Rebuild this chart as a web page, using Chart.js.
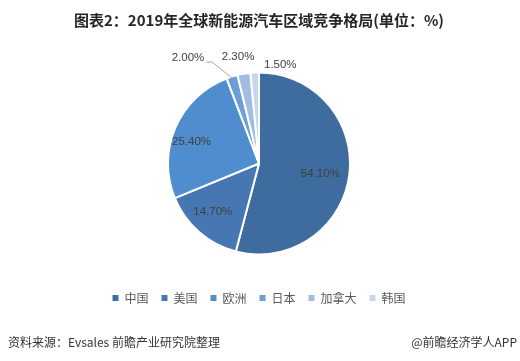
<!DOCTYPE html>
<html>
<head>
<meta charset="utf-8">
<script src="https://cdn.jsdelivr.net/npm/chart.js@4.4.1/dist/chart.umd.min.js"></script>
<style>
  html, body { margin: 0; padding: 0; background: #fff; }
  #wrap { position: relative; width: 520px; height: 361px; }
  .foot {
    position: absolute; top: 333px; font: 12px "Noto Sans CJK SC", sans-serif;
    color: #333; line-height: 18px; white-space: nowrap;
  }
</style>
</head>
<body>
<div id="wrap">
  <canvas id="pie" width="520" height="361"></canvas>
  <div class="foot" style="left:8px">资料来源：Evsales 前瞻产业研究院整理</div>
  <div class="foot" style="right:3px">@前瞻经济学人APP</div>
</div>
<script>
const regions = ['中国', '美国', '欧洲', '日本', '加拿大', '韩国'];
const shares = [54.1, 14.7, 25.4, 2.0, 2.3, 1.5];
const sliceColors = ['#3e6c9e', '#4677b3', '#4f8dcf', '#6d9fd6', '#a1bee2', '#c8d7ec'];

// where each value label sits: inside (k < 1) or outside the rim, plus a nudge
const labelPlace = [
  { k: 0.68, dx: 0, dy: 2 },
  { k: 0.72, dx: -3, dy: -1 },
  { k: 0.70, dx: -9, dy: 4 },
  { k: 1.0, dx: -44, dy: -19, leader: true },
  { k: 1.19, dx: -3, dy: 0 },
  { k: 1.1, dx: 26, dy: 1 }
];

const sliceLabels = {
  id: 'sliceLabels',
  afterDatasetsDraw(chart) {
    const { ctx } = chart;
    const meta = chart.getDatasetMeta(0);
    ctx.save();
    ctx.font = '11.5px "Liberation Sans", Arial, sans-serif';
    ctx.fillStyle = '#404040';
    ctx.textAlign = 'center';
    ctx.textBaseline = 'middle';
    meta.data.forEach((arc, i) => {
      const p = arc.getProps(['x', 'y', 'startAngle', 'endAngle', 'outerRadius'], true);
      const mid = (p.startAngle + p.endAngle) / 2;
      const place = labelPlace[i];
      const r = p.outerRadius * place.k;
      const lx = p.x + Math.cos(mid) * r + place.dx;
      const ly = p.y + Math.sin(mid) * r + place.dy;
      const text = shares[i].toFixed(2) + '%';
      ctx.fillText(text, lx, ly);
      if (place.leader) {
        const w = ctx.measureText(text).width;
        const sx = p.x + Math.cos(mid) * (p.outerRadius - 2);
        const sy = p.y + Math.sin(mid) * (p.outerRadius - 2);
        ctx.strokeStyle = '#a6a6a6';
        ctx.lineWidth = 1;
        ctx.beginPath();
        ctx.moveTo(lx + w / 2 + 2, ly + 4.5);
        ctx.lineTo(lx + w / 2 + 8, ly + 4.5);
        ctx.lineTo(sx, sy);
        ctx.stroke();
      }
    });
    ctx.restore();
  }
};

new Chart(document.getElementById('pie'), {
  type: 'pie',
  data: {
    labels: regions,
    datasets: [{
      data: shares,
      backgroundColor: sliceColors,
      borderColor: '#ffffff',
      borderWidth: 2
    }]
  },
  options: {
    responsive: false,
    animation: false,
    radius: 91,
    layout: { padding: { left: 0, right: 2, top: 0, bottom: 47 } },
    plugins: {
      tooltip: { enabled: false },
      title: {
        display: true,
        text: '图表2：2019年全球新能源汽车区域竞争格局(单位：%)',
        color: '#262626',
        font: { family: '"Noto Sans CJK SC", sans-serif', size: 15, weight: 'bold', lineHeight: 1.2 },
        padding: { top: 11, bottom: 19 }
      },
      legend: {
        position: 'bottom',
        labels: {
          boxWidth: 6,
          boxHeight: 6,
          padding: 13,
          color: '#595959',
          font: { family: '"Noto Sans CJK SC", sans-serif', size: 12 },
          generateLabels: () => regions.map((name, i) => ({
            text: name,
            fillStyle: sliceColors[i],
            strokeStyle: sliceColors[i],
            lineWidth: 0,
            hidden: false,
            index: i,
            fontColor: '#595959'
          }))
        }
      }
    }
  },
  plugins: [sliceLabels]
});
</script>
</body>
</html>
